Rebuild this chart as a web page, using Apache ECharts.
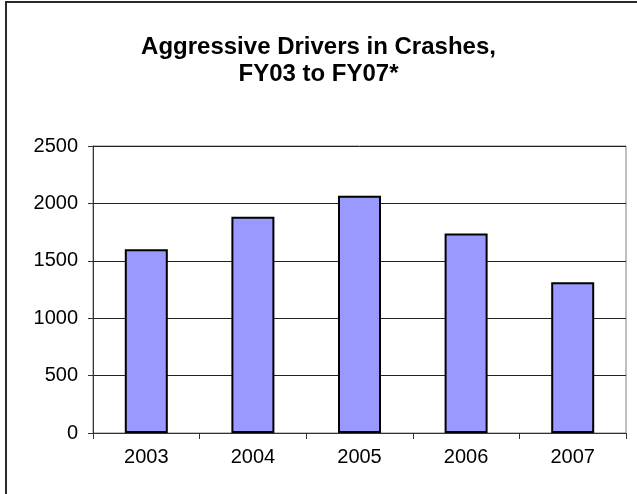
<!DOCTYPE html>
<html>
<head>
<meta charset="utf-8">
<script src="https://cdn.jsdelivr.net/npm/echarts@6/dist/echarts.min.js"></script>
<style>
html,body{margin:0;padding:0;background:#fff;}
#chart{width:637px;height:494px;}
</style>
</head>
<body>
<div id="chart"></div>
<script>
const titleText = 'Aggressive Drivers in Crashes,\nFY03 to FY07*';
const categories = ['2003', '2004', '2005', '2006', '2007'];
const drivers = [1600, 1883, 2066, 1737, 1313];
const yTicks = { min: 0, max: 2500, interval: 500 };

const chart = echarts.init(document.getElementById('chart'), null, { renderer: 'canvas' });
chart.setOption({
  animation: false,
  backgroundColor: '#fff',
  title: {
    text: titleText,
    left: 'center',
    top: 29,
    textStyle: {
      fontFamily: 'Liberation Sans, Arial, sans-serif',
      fontWeight: 'bold',
      fontSize: 24,
      lineHeight: 27,
      color: '#000'
    }
  },
  graphic: [{
    type: 'rect',
    shape: { x: 6, y: 2, width: 700, height: 600 },
    style: { fill: 'none', stroke: '#2a2a2a', lineWidth: 2 },
    silent: true
  }],
  grid: {
    left: 93, right: 11, top: 146, bottom: 61,
    show: true, borderColor: '#808080', borderWidth: 1
  },
  xAxis: {
    type: 'category',
    data: categories,
    boundaryGap: true,
    axisLine: { show: true, lineStyle: { color: '#333', width: 1 } },
    axisTick: { show: true, alignWithLabel: false, interval: 0, length: 6, lineStyle: { color: '#333' } },
    axisLabel: {
      margin: 14,
      fontFamily: 'Liberation Sans, Arial, sans-serif',
      fontSize: 20,
      color: '#000'
    },
    splitLine: { show: false }
  },
  yAxis: {
    type: 'value',
    min: yTicks.min, max: yTicks.max, interval: yTicks.interval,
    axisLine: { show: true, lineStyle: { color: '#333', width: 1 } },
    axisTick: { show: true, length: 5, lineStyle: { color: '#333' } },
    axisLabel: {
      margin: 15,
      fontFamily: 'Liberation Sans, Arial, sans-serif',
      fontSize: 20,
      color: '#000',
      formatter: function (v) { return String(v); }
    },
    splitLine: { show: true, lineStyle: { color: '#222', width: 1 } }
  },
  series: [{
    type: 'bar',
    data: drivers,
    barWidth: 43,
    itemStyle: { color: '#9999FF', borderColor: '#000', borderWidth: 2 }
  }]
});
</script>
</body>
</html>
